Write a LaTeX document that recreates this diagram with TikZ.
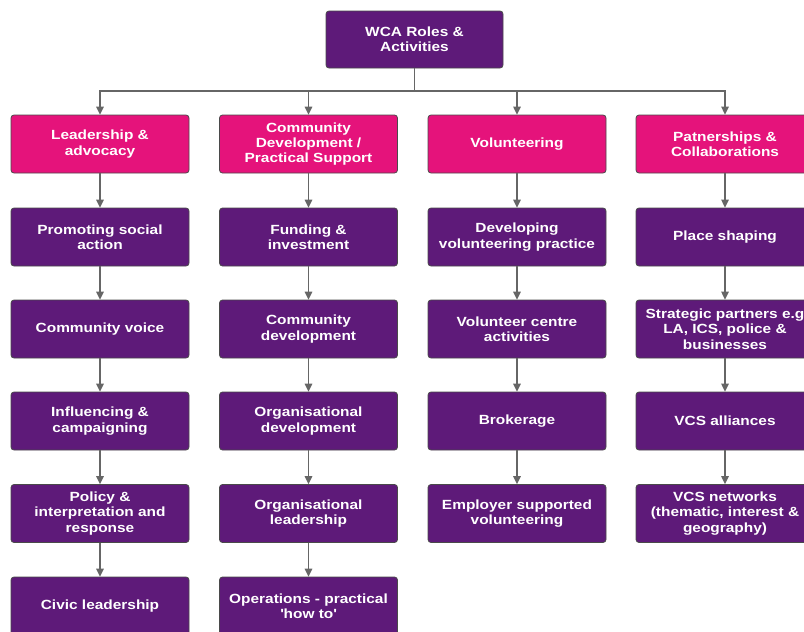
\documentclass[tikz,border=0pt]{standalone}
\usepackage{fontspec}
\setmainfont{Liberation Sans}[FakeStretch=1.16]
\usetikzlibrary{arrows.meta}
\definecolor{wpurple}{HTML}{5E1A79}
\definecolor{wpink}{HTML}{E5137B}
\definecolor{wline}{HTML}{666666}
\definecolor{wborder}{HTML}{4A4A4A}
\tikzset{
  box/.style={draw=wborder, line width=0.8pt, rounded corners=3pt, minimum width=178pt, minimum height=58pt,
    align=center, text=white, font=\fontsize{13.3}{15.3}\selectfont\bfseries, inner sep=2pt},
  topbox/.style={box, fill=wpurple},
  catbox/.style={box, fill=wpink},
  actbox/.style={box, fill=wpurple},
  conn/.style={draw=wline, line width=1.4pt, -{Triangle[length=8pt,width=7.5pt]}},
  plain/.style={draw=wline, line width=1.4pt}
}
\begin{document}
\begin{tikzpicture}[x=1pt,y=-1pt]
\useasboundingbox (0,0) rectangle (804,632);
\node[topbox, minimum width=177pt, minimum height=57pt] (top) at (414.5,39.5) {WCA Roles \&\\Activities};
% category row
\node[catbox] (c1) at (100,144) {Leadership \&\\advocacy};
\node[catbox] (c2) at (308.5,144) {Community\\Development /\\Practical Support};
\node[catbox] (c3) at (517,144) {Volunteering};
\node[catbox] (c4) at (725,144) {Patnerships \&\\Collaborations};
% column 1
\node[actbox] (a1) at (100,237) {Promoting social\\action};
\node[actbox] (a2) at (100,329) {Community voice};
\node[actbox] (a3) at (100,421) {Influencing \&\\campaigning};
\node[actbox] (a4) at (100,513.5) {Policy \&\\interpretation and\\response};
\node[actbox] (a5) at (100,606) {Civic leadership};
% column 2
\node[actbox] (b1) at (308.5,237) {Funding \&\\investment};
\node[actbox] (b2) at (308.5,329) {Community\\development};
\node[actbox] (b3) at (308.5,421) {Organisational\\development};
\node[actbox] (b4) at (308.5,513.5) {Organisational\\leadership};
\node[actbox] (b5) at (308.5,606) {Operations - practical\\\textquotesingle how to\textquotesingle};
% column 3
\node[actbox] (d1) at (517,237) {Developing\\volunteering practice};
\node[actbox] (d2) at (517,329) {Volunteer centre\\activities};
\node[actbox] (d3) at (517,421) {Brokerage};
\node[actbox] (d4) at (517,513.5) {Employer supported\\volunteering};
% column 4
\node[actbox] (e1) at (725,237) {Place shaping};
\node[actbox] (e2) at (725,329) {Strategic partners e.g\\LA, ICS, police \&\\businesses};
\node[actbox] (e3) at (725,421) {VCS alliances};
\node[actbox] (e4) at (725,513.5) {VCS networks\\(thematic, interest \&\\geography)};
% tree connectors
\coordinate (hub) at (414.5,91);
\draw[plain] (top.south) -- (hub);
\foreach \c in {c1,c2,c3,c4}{
  \draw[conn] (hub) -| (\c.north);
}
% chains
\draw[conn] (c1) -- (a1);
\draw[conn] (a1) -- (a2);
\draw[conn] (a2) -- (a3);
\draw[conn] (a3) -- (a4);
\draw[conn] (a4) -- (a5);
\draw[conn] (c2) -- (b1);
\draw[conn] (b1) -- (b2);
\draw[conn] (b2) -- (b3);
\draw[conn] (b3) -- (b4);
\draw[conn] (b4) -- (b5);
\draw[conn] (c3) -- (d1);
\draw[conn] (d1) -- (d2);
\draw[conn] (d2) -- (d3);
\draw[conn] (d3) -- (d4);
\draw[conn] (c4) -- (e1);
\draw[conn] (e1) -- (e2);
\draw[conn] (e2) -- (e3);
\draw[conn] (e3) -- (e4);
\end{tikzpicture}
\end{document}
